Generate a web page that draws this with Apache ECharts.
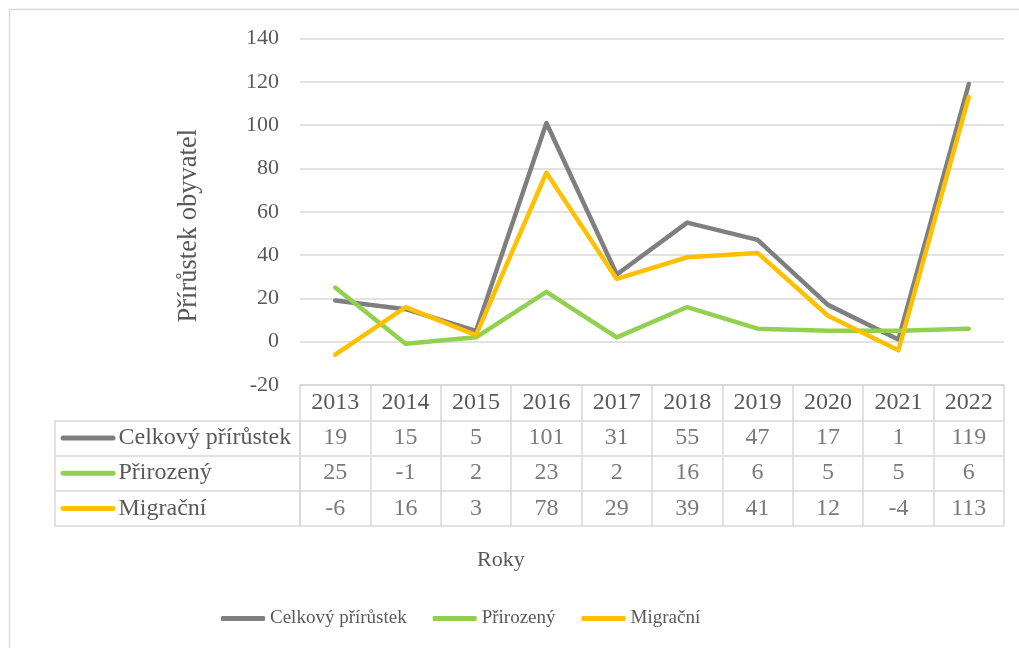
<!DOCTYPE html>
<html><head><meta charset="utf-8">
<script src="https://cdn.jsdelivr.net/npm/echarts@6/dist/echarts.min.js"></script>
<style>html,body{margin:0;padding:0;background:#fff}#c{width:1019px;height:648px}</style>
</head><body><div id="c"></div>
<script>
const years = ['2013','2014','2015','2016','2017','2018','2019','2020','2021','2022'];
const seriesNames = ['Celkový přírůstek','Přirozený','Migrační'];
const celkovy = [19,15,5,101,31,55,47,17,1,119];
const prirozeny = [25,-1,2,23,2,16,6,5,5,6];
const migracni = [-6,16,3,78,29,39,41,12,-4,113];
const yMin = -20, yMax = 140, yStep = 20;
const yTitle = 'Přírůstek obyvatel';
const xTitle = 'Roky';

const values = [celkovy, prirozeny, migracni];
const colors = ['#7f7f7f','#92d050','#ffc000'];
const FONT = "'Liberation Serif','Times New Roman',serif";
const TXT = '#595959';
const GRID = '#d9d9d9';

const rowCats = [' '].concat(seriesNames);
const tableData = [];
values.forEach((arr, i) => arr.forEach((v, j) => tableData.push([years[j], seriesNames[i], v])));

const rich = {t: {fontSize: 24, color: TXT, fontFamily: FONT, padding: [0,0,0,3]}};
colors.forEach((c, i) => { rich['s' + i] = {width: 55, height: 5, backgroundColor: c, borderRadius: 2.5}; });

const option = {
  animation: false,
  textStyle: {fontFamily: FONT},
  title: {text: xTitle, left: 472, top: 544,
    textStyle: {fontSize: 22, fontWeight: 'normal', color: TXT, fontFamily: FONT}},
  legend: {data: seriesNames, left: 216, top: 604, itemWidth: 44, itemHeight: 5, itemGap: 26,
    icon: 'roundRect', textStyle: {fontSize: 19, color: TXT, fontFamily: FONT}},
  graphic: [{type: 'rect', shape: {x: 9.5, y: 9.5, width: 1030, height: 660},
    style: {fill: 'none', stroke: GRID, lineWidth: 1.5}, silent: true}],
  grid: [
    {left: 300, right: 15, top: 38.5, bottom: 263},
    {left: 300, right: 15, top: 385, bottom: 122},
    {left: 54.5, width: 245.5, top: 420.25, bottom: 122}
  ],
  xAxis: [
    {type: 'category', data: years, gridIndex: 0, boundaryGap: true,
      axisLine: {show: false}, axisTick: {show: false}, axisLabel: {show: false}},
    {type: 'category', data: years, gridIndex: 1, position: 'top',
      axisLine: {show: true, lineStyle: {color: GRID, width: 1.5}}, axisTick: {show: false},
      axisLabel: {inside: true, margin: 17.6, verticalAlign: 'middle', interval: 0,
        fontSize: 24, color: TXT, fontFamily: FONT},
      splitLine: {show: true, interval: 0, lineStyle: {color: GRID, width: 1.5}}},
    {type: 'value', gridIndex: 2, min: 0, max: 1, interval: 1,
      axisLine: {show: false}, axisTick: {show: false}, axisLabel: {show: false},
      splitLine: {show: true, lineStyle: {color: GRID, width: 1.5}}}
  ],
  yAxis: [
    {type: 'value', gridIndex: 0, min: yMin, max: yMax, interval: yStep,
      axisLine: {show: false}, axisTick: {show: false},
      axisLabel: {fontSize: 22, color: TXT, margin: 21, fontFamily: FONT},
      splitLine: {lineStyle: {color: GRID, width: 1.5}},
      name: yTitle, nameLocation: 'middle', nameGap: 97,
      nameTextStyle: {fontSize: 26.5, color: TXT, fontFamily: FONT, padding: [0, 28, 0, 0]}},
    {type: 'category', data: rowCats, gridIndex: 1, inverse: true,
      axisLine: {show: false}, axisTick: {show: false}, axisLabel: {show: false},
      splitLine: {show: true, interval: 0, lineStyle: {color: GRID, width: 1.5}}},
    {type: 'category', data: seriesNames, gridIndex: 2, inverse: true,
      axisLine: {show: false}, axisTick: {show: false},
      axisLabel: {inside: true, margin: 6, interval: 0,
        formatter: (v, i) => '{s' + i + '|}{t|' + v + '}', rich: rich},
      splitLine: {show: true, interval: 0, lineStyle: {color: GRID, width: 1.5}}}
  ],
  series: seriesNames.map((n, i) => ({
    name: n, type: 'line', data: values[i], xAxisIndex: 0, yAxisIndex: 0,
    symbol: 'none', color: colors[i],
    lineStyle: {width: 4.5, color: colors[i], cap: 'round', join: 'round'}
  })).concat([{
    name: 'tabulka', type: 'scatter', xAxisIndex: 1, yAxisIndex: 1, data: tableData,
    symbolSize: 1, itemStyle: {color: 'rgba(0,0,0,0)'}, silent: true,
    label: {show: true, position: 'inside', formatter: p => String(p.value[2]),
      fontSize: 24, color: TXT, fontFamily: FONT}
  }])
};
echarts.init(document.getElementById('c'), null, {renderer: 'canvas'}).setOption(option);
</script></body></html>
